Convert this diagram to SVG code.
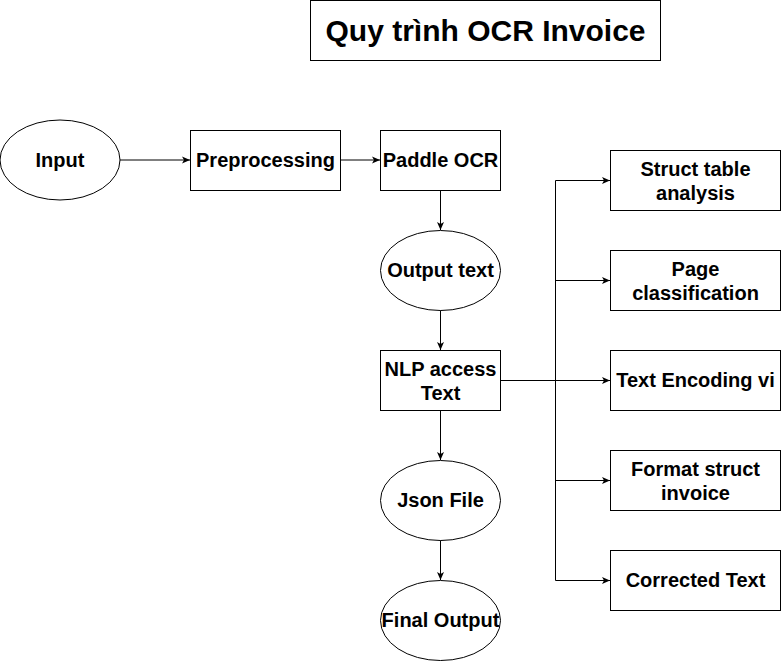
<svg xmlns="http://www.w3.org/2000/svg" width="781" height="661" viewBox="0 0 781 661">
<style>
.s{fill:#fff;stroke:#000;stroke-width:1}
.t{font-family:"Liberation Sans",Arial,Helvetica,sans-serif;font-weight:bold;font-size:20px;fill:#000;text-anchor:middle}
.c{fill:none;stroke:#000;stroke-width:1}
</style>
<defs>
<marker id="a" viewBox="0 0 8 8" refX="8" refY="4" markerWidth="8" markerHeight="8" markerUnits="userSpaceOnUse" orient="auto">
<path d="M0,0.5 L8,4 L0,7.5 L2,4 Z" fill="#000"/>
</marker>
</defs>
<rect width="781" height="661" fill="#fff"/>
<g id="title"><rect class="s" x="310.5" y="0.5" width="350" height="60"/><text class="t" x="485.5" y="41" style="font-size:30px">Quy trình OCR Invoice</text></g>
<g id="connectors">
<path class="c" d="M120,160 H190" marker-end="url(#a)"/>
<path class="c" d="M340,160 H380" marker-end="url(#a)"/>
<path class="c" d="M440.5,190 V230" marker-end="url(#a)"/>
<path class="c" d="M440.5,310 V350" marker-end="url(#a)"/>
<path class="c" d="M440.5,410 V460" marker-end="url(#a)"/>
<path class="c" d="M440.5,540 V580" marker-end="url(#a)"/>
<path class="c" d="M500,380.5 H610" marker-end="url(#a)"/>
<path class="c" d="M555.5,380 V180.5 H610" marker-end="url(#a)"/>
<path class="c" d="M555.5,280.5 H610" marker-end="url(#a)"/>
<path class="c" d="M555.5,380 V480.5 H610" marker-end="url(#a)"/>
<path class="c" d="M555.5,480 V580.5 H610" marker-end="url(#a)"/>
</g>
<g id="input"><ellipse class="s" cx="60" cy="160" rx="60" ry="40"/><text class="t" x="60" y="167">Input</text></g>
<g id="preprocessing"><rect class="s" x="190.5" y="130.5" width="150" height="60"/><text class="t" x="265.5" y="167">Preprocessing</text></g>
<g id="paddle"><rect class="s" x="380.5" y="130.5" width="120" height="60"/><text class="t" x="440.5" y="167">Paddle OCR</text></g>
<g id="outputtext"><ellipse class="s" cx="440.5" cy="270.5" rx="60" ry="40"/><text class="t" x="440.5" y="277">Output text</text></g>
<g id="nlp"><rect class="s" x="380.5" y="350.5" width="120" height="60"/><text class="t" x="440.5" y="376">NLP access</text><text class="t" x="440.5" y="400">Text</text></g>
<g id="json"><ellipse class="s" cx="440.5" cy="500.5" rx="60" ry="40"/><text class="t" x="440.5" y="507">Json File</text></g>
<g id="final"><ellipse class="s" cx="440.5" cy="620.5" rx="60" ry="40"/><text class="t" x="440.5" y="627">Final Output</text></g>
<g id="struct"><rect class="s" x="610.5" y="150.5" width="170" height="60"/><text class="t" x="695.5" y="176">Struct table</text><text class="t" x="695.5" y="200">analysis</text></g>
<g id="page"><rect class="s" x="610.5" y="250.5" width="170" height="60"/><text class="t" x="695.5" y="276">Page</text><text class="t" x="695.5" y="300">classification</text></g>
<g id="encoding"><rect class="s" x="610.5" y="350.5" width="170" height="60"/><text class="t" x="695.5" y="387">Text Encoding vi</text></g>
<g id="format"><rect class="s" x="610.5" y="450.5" width="170" height="60"/><text class="t" x="695.5" y="476">Format struct</text><text class="t" x="695.5" y="500">invoice</text></g>
<g id="corrected"><rect class="s" x="610.5" y="550.5" width="170" height="60"/><text class="t" x="695.5" y="587">Corrected Text</text></g>
</svg>
